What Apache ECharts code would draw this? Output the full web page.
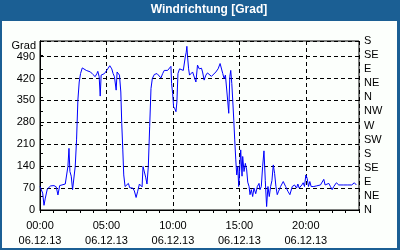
<!DOCTYPE html>
<html>
<head>
<meta charset="utf-8">
<script src="https://cdn.jsdelivr.net/npm/echarts@6/dist/echarts.min.js"></script>
<style>
html,body{margin:0;padding:0;background:#1b5f94;}
#chart{width:400px;height:250px;}
</style>
</head>
<body>
<div id="chart"></div>
<script>
// ---- data (hours since 06.12.13 00:00, wind direction in degrees) ----
const titleText = "Windrichtung [Grad]";
const unitLabel = "Grad";
const dateLabel = "06.12.13";
const xTickLabels = ["00:00", "05:00", "10:00", "15:00", "20:00"];
const compassLabels = ["N", "NE", "E", "SE", "S", "SW", "W", "NW", "N", "NE", "E", "SE", "S"];

const hours = [
  0.00, 0.10, 0.20, 0.30, 0.40, 0.55, 0.80, 1.05, 1.22, 1.35, 1.48, 1.73, 1.90, 2.00,
  2.10, 2.18, 2.25, 2.35, 2.45, 2.55, 2.65, 2.75, 2.85, 2.95, 3.05, 3.18, 3.30, 3.48,
  3.60, 3.80, 3.98, 4.15, 4.28, 4.35, 4.45, 4.53, 4.60, 4.75, 4.85, 4.98, 5.10, 5.25,
  5.40, 5.50, 5.60, 5.73, 5.80, 5.98, 6.08, 6.15, 6.23, 6.30, 6.40, 6.55, 6.65, 6.75,
  6.98, 7.10, 7.23, 7.35, 7.48, 7.60, 7.68, 7.75, 7.85, 7.95, 8.05, 8.15, 8.25, 8.35,
  8.45, 8.60, 8.80, 8.95, 9.10, 9.23, 9.35, 9.60, 9.75, 9.85, 9.90, 9.98, 10.05, 10.15,
  10.23, 10.30, 10.38, 10.50, 10.65, 10.78, 10.85, 10.93, 11.00, 11.05, 11.10, 11.18,
  11.25, 11.35, 11.48, 11.60, 11.73, 11.85, 11.98, 12.15, 12.23, 12.35, 12.48, 12.60,
  12.75, 12.90, 13.05, 13.23, 13.40, 13.55, 13.65, 13.75, 13.85, 13.95, 14.05, 14.13,
  14.20, 14.28, 14.35, 14.43, 14.50, 14.58, 14.65, 14.73, 14.80, 14.88, 14.95, 15.03,
  15.10, 15.20, 15.25, 15.35, 15.45, 15.55, 15.63, 15.73, 15.80, 15.90, 16.00, 16.10,
  16.23, 16.35, 16.48, 16.55, 16.65, 16.75, 16.85, 16.95, 17.05, 17.15, 17.25, 17.35,
  17.45, 17.55, 17.65, 17.75, 17.85, 17.95, 18.10, 18.30, 18.48, 18.65, 18.80, 18.98,
  19.15, 19.30, 19.40, 19.50, 19.60, 19.70, 19.80, 19.90, 20.00, 20.10, 20.20, 20.30,
  20.40, 20.60, 20.80, 20.95, 21.10, 21.20, 21.35, 21.45, 21.60, 21.73, 21.85, 21.98,
  22.10, 22.30, 22.48, 22.85, 23.15, 23.30, 23.45, 23.65, 23.80
];
const direction = [
  75, 70, 54, 15, 38, 67, 77, 78, 74, 48, 78, 81, 83, 85,
  139, 197, 123, 108, 65, 70, 139, 224, 351, 409, 436, 454, 456, 446,
  441, 441, 433, 426, 436, 443, 426, 364, 431, 431, 436, 438, 451, 461,
  451, 436, 426, 383, 441, 431, 377, 277, 192, 112, 75, 80, 85, 71,
  70, 61, 40, 60, 83, 87, 74, 139, 142, 105, 83, 139, 266, 388,
  420, 433, 436, 431, 422, 436, 446, 446, 443, 459, 404, 372, 330, 323,
  314, 345, 436, 451, 456, 446, 441, 489, 504, 523, 491, 451,
  431, 436, 441, 436, 409, 463, 451, 453, 441, 415, 431, 438,
  441, 427, 431, 441, 451, 468, 473, 436, 420, 431, 436, 345,
  309, 426, 446, 404, 351, 287, 224, 160, 112, 139, 75, 133,
  192, 108, 171, 123, 149, 128, 89, 75, 49, 65, 43, 70,
  52, 75, 85, 65, 75, 139, 189, 94, 11, 75, 43, 75,
  94, 144, 117, 75, 49, 60, 75, 91, 75, 60, 49, 75,
  80, 70, 83, 70, 65, 80, 87, 75, 112, 101, 75, 91,
  75, 75, 77, 77, 80, 75, 98, 80, 75, 85, 75, 65,
  75, 87, 80, 80, 80, 75, 80, 87, 80
];

const seriesData = hours.map((h, i) => [h, direction[i]]);

const chart = echarts.init(document.getElementById('chart'), null, {renderer: 'canvas'});
const font = "'Liberation Sans', Arial, sans-serif";
const dashed = {show: true, lineStyle: {color: '#000', type: [4, 3], width: 1}};

chart.setOption({
  animation: false,
  backgroundColor: '#1b5f94',
  graphic: [
    {type: 'rect', shape: {x: 2, y: 21, width: 395, height: 227}, style: {fill: '#fcfffc'}, z: -10},
    {type: 'text', x: 209, y: 10, style: {text: titleText, fill: '#fff', font: "bold 12px " + font, textAlign: 'center', textVerticalAlign: 'middle'}},
    {type: 'text', x: 36, y: 46, style: {text: unitLabel, fill: '#000', font: "11px " + font, textAlign: 'right', textVerticalAlign: 'middle'}}
  ],
  grid: {left: 40, right: 41, top: 41, bottom: 40, show: true, borderColor: '#000', borderWidth: 1, backgroundColor: 'transparent'},
  xAxis: [
    {
      type: 'value', min: 0, max: 24, interval: 5,
      axisLine: {show: true, lineStyle: {color: '#000', width: 1}},
      axisTick: {show: false},
      splitLine: dashed,
      axisLabel: {
        color: '#000', fontSize: 11, fontFamily: font, lineHeight: 15, margin: 8,
        showMaxLabel: false,
        formatter: v => {
          const lbl = xTickLabels[Math.round(v / 5)];
          return (v % 5 === 0 && lbl) ? lbl + '\n' + dateLabel : '';
        }
      }
    },
    {
      type: 'value', min: 0, max: 24, interval: 1, position: 'bottom',
      axisLine: {show: false},
      axisTick: {show: true, length: 3, lineStyle: {color: '#000'}},
      axisLabel: {show: false},
      splitLine: {show: false}
    }
  ],
  yAxis: [
    {
      type: 'value', min: 0, max: 540, interval: 70, position: 'left',
      axisLine: {show: true, lineStyle: {color: '#000', width: 1}},
      axisTick: {show: false},
      splitLine: dashed,
      axisLabel: {color: '#000', fontSize: 11, fontFamily: font, margin: 5, showMaxLabel: false}
    },
    {
      type: 'value', min: 0, max: 540, interval: 45, position: 'right',
      axisLine: {show: true, lineStyle: {color: '#000', width: 1}},
      axisTick: {show: true, length: 3, lineStyle: {color: '#000'}},
      splitLine: {show: false},
      axisLabel: {
        color: '#000', fontSize: 11, fontFamily: font, margin: 5,
        formatter: v => compassLabels[Math.round(v / 45)] || ''
      }
    }
  ],
  series: [{
    type: 'line',
    xAxisIndex: 0, yAxisIndex: 0,
    data: seriesData,
    showSymbol: false,
    lineStyle: {color: '#0000ff', width: 1},
    itemStyle: {color: '#0000ff'}
  }]
});
</script>
</body>
</html>
